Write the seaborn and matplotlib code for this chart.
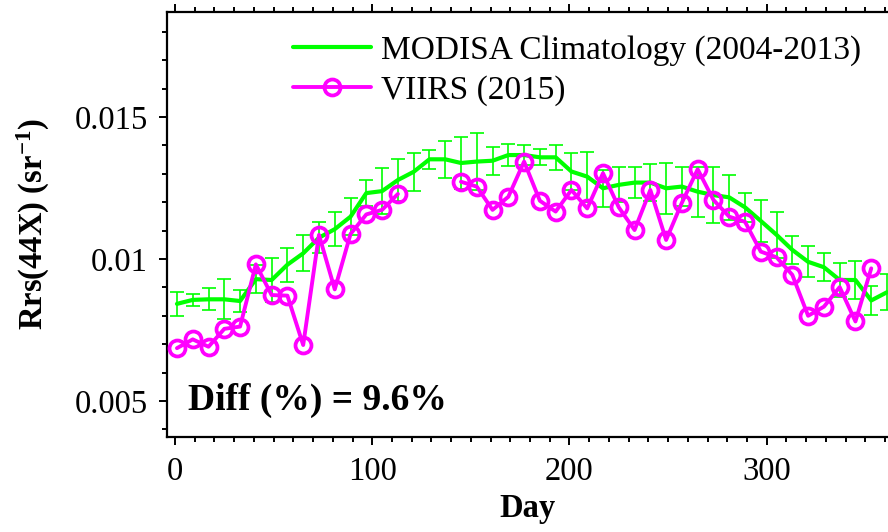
import numpy as np
import pandas as pd
import matplotlib
matplotlib.use("Agg")
import matplotlib.pyplot as plt
import seaborn as sns
from matplotlib.lines import Line2D
from matplotlib.ticker import MultipleLocator, FixedLocator

# ---------------- data ----------------
days = [1, 9, 17, 25, 33, 41, 49, 57, 65, 73, 81, 89, 97, 105, 113, 121,
        129, 137, 145, 153, 161, 169, 177, 185, 193, 201, 209, 217, 225,
        233, 241, 249, 257, 265, 273, 281, 289, 297, 305, 313, 321, 329,
        337, 345, 353, 361]

# MODISA climatology mean and std (units of 1e-4 sr^-1)
clim_mean = [84.2, 85.6, 85.8, 85.8, 85.2, 92.9, 92.6, 98.0, 102.0, 107.5,
             110.5, 114.9, 123.2, 123.9, 127.8, 130.7, 135.1, 135.1, 133.8,
             134.3, 134.6, 136.6, 136.6, 135.8, 135.8, 130.8, 129.0, 124.9,
             126.1, 126.9, 126.9, 124.9, 125.5, 123.7, 122.5, 121.7, 118.2,
             113.4, 108.5, 103.2, 99.0, 97.1, 92.6, 92.6, 85.4, 88.3]
clim_std = [4.3, 2.1, 3.9, 7.0, 3.9, 5.0, 7.6, 6.0, 6.3, 5.4, 6.0, 6.5, 4.7,
            8.0, 7.4, 6.6, 3.4, 6.6, 9.0, 10.0, 4.9, 4.0, 3.5, 2.8, 4.3, 6.5,
            8.8, 6.5, 6.2, 5.4, 6.5, 9.0, 7.0, 8.8, 10.0, 7.9, 5.1, 7.3, 8.2,
            4.9, 5.5, 4.9, 5.9, 6.7, 5.2, 6.4]

# VIIRS 2015 (units of 1e-4 sr^-1), NaN = missing composite
viirs = [68.6, 71.7, 69.1, 75.4, 76.2, 98.1, 87.3, 87.1, 69.7, 108.5, 89.3,
         108.8, 115.7, 117.3, 122.9, np.nan, np.nan, np.nan, 127.2, 125.5,
         117.3, 121.9, 134.3, 120.5, 116.7, 124.3, 117.8, 130.2, 118.2,
         110.2, 124.3, 106.7, 119.8, 131.6, 120.8, 114.9, 113.1, 102.6,
         100.6, 94.4, 80.0, 83.2, 90.1, 78.0, 96.7, np.nan]

labels = ["MODISA Climatology (2004-2013)", "VIIRS (2015)"]
diff_text = "Diff (%) = 9.6%"
xticks = [0, 100, 200, 300]
yticks = [0.005, 0.01, 0.015]
ytick_labels = ["0.005", "0.01", "0.015"]

# ---------------- frames ----------------
scale = 1e-4
df_c = pd.DataFrame({"day": days,
                     "mean": np.array(clim_mean) * scale,
                     "std": np.array(clim_std) * scale})
v = np.array(viirs) * scale
seg = np.cumsum(np.isnan(v))
df_v = pd.DataFrame({"day": days, "rrs": v, "seg": seg}).dropna()

# ---------------- style ----------------
sns.set_theme(style="white")
plt.rcParams["font.family"] = ["Liberation Serif", "DejaVu Serif"]
plt.rcParams["mathtext.fontset"] = "custom"
plt.rcParams["mathtext.rm"] = "Liberation Serif:bold"
plt.rcParams["mathtext.bf"] = "Liberation Serif:bold"
plt.rcParams["mathtext.it"] = "Liberation Serif:bold:italic"
for k in ["text.color", "axes.labelcolor", "xtick.color", "ytick.color",
          "axes.edgecolor"]:
    plt.rcParams[k] = "black"

GREEN = "#00ff00"
MAGENTA = "#ff00ff"
FS = 23.5

W, H = 888, 532
fig = plt.figure(figsize=(W / 100, H / 100), dpi=100)
# axes from x=167..888 px, y=12..437 px
ax = fig.add_axes([167 / W, (H - 437) / H, (W - 167) / W, 425 / H])

ax.errorbar(df_c["day"], df_c["mean"], yerr=df_c["std"], fmt="none",
            ecolor=GREEN, elinewidth=1.2, capsize=5, capthick=1.2, zorder=2)
sns.lineplot(data=df_c, x="day", y="mean", color=GREEN, linewidth=3,
             ax=ax, zorder=3, legend=False)
sns.lineplot(data=df_v, x="day", y="rrs", units="seg", estimator=None,
             color=MAGENTA, linewidth=2.8, marker="o", markersize=11.5,
             markerfacecolor="none", markeredgecolor=MAGENTA,
             markeredgewidth=2.7, ax=ax, zorder=4, legend=False)

ax.set_xlim(-4.05, 361.5)
ax.set_ylim(0.003732, 0.018697)

ax.xaxis.set_major_locator(FixedLocator(xticks))
ax.xaxis.set_minor_locator(MultipleLocator(10))
ax.yaxis.set_major_locator(FixedLocator(yticks))
ax.set_yticklabels(ytick_labels)
ax.yaxis.set_minor_locator(MultipleLocator(0.001))

for s in ["left", "bottom", "top"]:
    ax.spines[s].set_visible(True)
    ax.spines[s].set_color("black")
    ax.spines[s].set_linewidth(1.6)
ax.spines["right"].set_visible(False)

ax.tick_params(which="both", direction="out", color="black", width=1.4,
               top=True, bottom=True, left=True, right=False,
               labeltop=False, labelsize=FS, labelcolor="black")
ax.tick_params(which="major", length=6, pad=8)
ax.tick_params(which="minor", length=3.5)

ax.set_xlabel("Day", fontsize=FS, fontweight="bold", labelpad=4,
              color="black")
ax.set_ylabel(r"Rrs(44X) (sr$^{\mathbf{-1}}$)", fontsize=FS,
              fontweight="bold", labelpad=16, color="black")

fig.text(188 / W, 1 - 410 / H, diff_text, fontsize=27, fontweight="bold",
         ha="left", va="baseline", color="black")

handles = [Line2D([], [], color=GREEN, linewidth=3),
           Line2D([], [], color=MAGENTA, linewidth=2.8, marker="o",
                  markersize=11.5, markerfacecolor="none",
                  markeredgecolor=MAGENTA, markeredgewidth=2.7)]
leg = ax.legend(handles, labels, loc="upper left",
                bbox_to_anchor=(293 / W, 1 - 35 / H),
                bbox_transform=fig.transFigure, frameon=False,
                fontsize=24, borderpad=0, handlelength=2.35,
                handletextpad=0.28, labelspacing=0.28, borderaxespad=0,
                labelcolor="black")

fig.savefig("out.png", dpi=100)
